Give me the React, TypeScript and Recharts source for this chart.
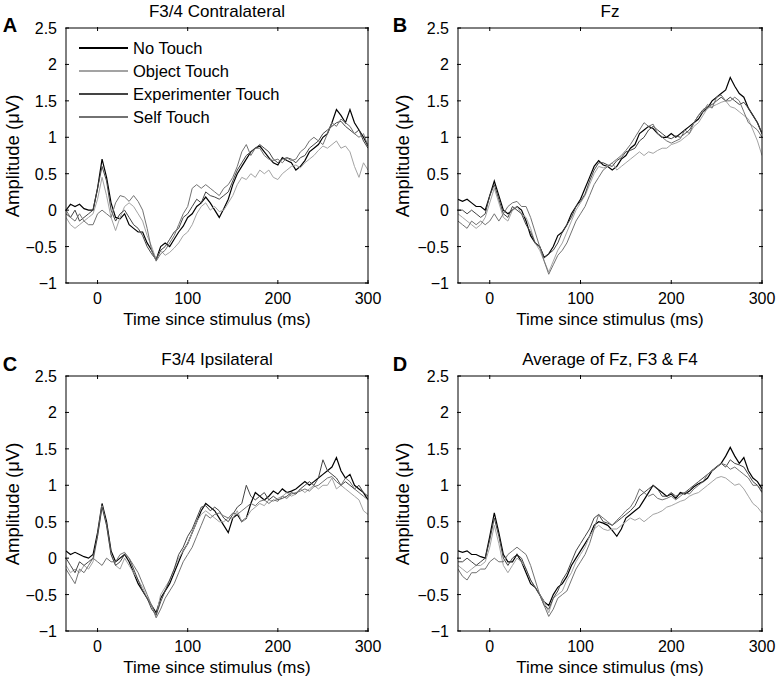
import { LineChart, Line, XAxis, YAxis, Legend } from "recharts";

// time axis, 5 ms steps from -35 to 300 ms
const times = [
  -35, -30, -25, -20, -15, -10, -5, 0, 5, 10, 15, 20, 25, 30, 35, 40, 45, 50, 55, 60,
  65, 70, 75, 80, 85, 90, 95, 100, 105, 110, 115, 120, 125, 130, 135, 140, 145, 150, 155, 160,
  165, 170, 175, 180, 185, 190, 195, 200, 205, 210, 215, 220, 225, 230, 235, 240, 245, 250, 255, 260,
  265, 270, 275, 280, 285, 290, 295, 300,
];

const xTicks = [0, 100, 200, 300];
const yTicks = [-1, -0.5, 0, 0.5, 1, 1.5, 2, 2.5];

const seriesNames = ["No Touch", "Object Touch", "Experimenter Touch", "Self Touch"];
const seriesColors = ["#000000", "#a3a3a3", "#444444", "#727272"];

// A: F3/4 Contralateral
const contraNo = [
  0.0, 0.08, 0.05, 0.08, 0.02, 0.0, 0.0, 0.3, 0.7, 0.45, 0.1, -0.1, -0.12, -0.05, -0.2, -0.25, -0.3, -0.3, -0.45, -0.55,
  -0.68, -0.5, -0.45, -0.5, -0.4, -0.3, -0.22, -0.1, -0.05, 0.05, 0.1, 0.18, 0.1, 0.0, -0.1, 0.02, 0.15, 0.35, 0.5, 0.6,
  0.7, 0.8, 0.85, 0.88, 0.8, 0.72, 0.65, 0.62, 0.72, 0.68, 0.65, 0.55, 0.6, 0.68, 0.8, 0.85, 0.9, 1.0, 1.05, 1.2,
  1.38, 1.3, 1.2, 1.38, 1.2, 1.1, 1.0, 0.88,
];
const contraObject = [
  -0.1, -0.2, -0.25, -0.2, -0.15, -0.1, -0.05, 0.15, 0.45, 0.2, -0.1, -0.28, -0.1, 0.05, 0.1, 0.05, -0.05, -0.15, -0.35, -0.5,
  -0.68, -0.55, -0.62, -0.58, -0.52, -0.45, -0.35, -0.3, -0.2, -0.05, 0.05, 0.1, 0.0, 0.05, -0.02, 0.0, 0.1, 0.2, 0.35, 0.45,
  0.42, 0.5, 0.45, 0.55, 0.5, 0.55, 0.45, 0.42, 0.5, 0.55, 0.6, 0.62, 0.58, 0.65, 0.7, 0.75, 0.82, 0.88, 0.85, 0.9,
  0.95, 0.85, 0.88, 0.8, 0.6, 0.45, 0.65, 0.55,
];
const contraExperimenter = [
  -0.05, -0.1, 0.0, -0.15, -0.1, -0.05, 0.0, 0.3, 0.6, 0.4, 0.0, -0.15, -0.05, 0.0, -0.1, -0.2, -0.25, -0.35, -0.5, -0.6,
  -0.68, -0.55, -0.5, -0.4, -0.3, -0.25, -0.1, -0.05, 0.05, 0.15, 0.1, 0.25, 0.2, 0.18, 0.15, 0.2, 0.25, 0.4, 0.55, 0.65,
  0.75, 0.8, 0.85, 0.9, 0.85, 0.8, 0.7, 0.65, 0.7, 0.72, 0.7, 0.65, 0.72, 0.75, 0.85, 0.9, 0.95, 1.05, 1.1, 1.15,
  1.2, 1.22, 1.15, 1.1, 1.05, 1.1, 0.95, 0.85,
];
const contraSelf = [
  0.0, -0.1, -0.15, -0.05, -0.15, -0.2, -0.2, -0.05, 0.0, -0.05, -0.1, 0.1, 0.2, 0.18, 0.12, 0.2, 0.12, 0.0, -0.25, -0.55,
  -0.7, -0.6, -0.55, -0.45, -0.35, -0.2, -0.05, 0.05, 0.3, 0.35, 0.3, 0.35, 0.3, 0.25, 0.2, 0.3, 0.35, 0.45, 0.6, 0.8,
  0.9, 0.75, 0.85, 0.85, 0.75, 0.7, 0.68, 0.7, 0.65, 0.72, 0.68, 0.7, 0.8, 0.85, 0.95, 1.0, 0.95, 0.9, 1.05, 1.2,
  1.15, 1.25, 1.2, 1.15, 1.05, 1.0, 1.05, 0.88,
];

// B: Fz
const fzNo = [
  0.15, 0.12, 0.15, 0.1, 0.05, 0.05, 0.0, 0.2, 0.4, 0.2, 0.0, -0.05, 0.0, 0.05, 0.0, -0.15, -0.35, -0.45, -0.5, -0.65,
  -0.6, -0.5, -0.35, -0.3, -0.2, -0.05, 0.05, 0.15, 0.3, 0.45, 0.6, 0.68, 0.62, 0.6, 0.55, 0.6, 0.7, 0.75, 0.85, 0.9,
  1.05, 1.1, 1.15, 1.12, 1.05, 1.0, 1.0, 1.05, 1.0, 1.05, 1.1, 1.15, 1.2, 1.25, 1.35, 1.4, 1.5, 1.55, 1.6, 1.65,
  1.82, 1.7, 1.6, 1.55, 1.4, 1.3, 1.2, 1.05,
];
const fzObject = [
  -0.05, -0.1, -0.15, -0.2, -0.25, -0.2, -0.1, 0.1, 0.3, 0.1, -0.1, -0.15, 0.0, 0.05, -0.05, -0.1, -0.25, -0.45, -0.55, -0.7,
  -0.85, -0.7, -0.55, -0.45, -0.3, -0.15, 0.0, 0.1, 0.2, 0.35, 0.5, 0.6, 0.58, 0.6, 0.65, 0.55, 0.6, 0.65, 0.7, 0.75,
  0.8, 0.75, 0.8, 0.78, 0.82, 0.85, 0.85, 0.9, 0.92, 0.95, 1.0, 1.05, 1.15, 1.2, 1.3, 1.4, 1.42, 1.45, 1.48, 1.5,
  1.42, 1.4, 1.35, 1.3, 1.25, 1.1, 0.95, 0.75,
];
const fzExperimenter = [
  0.0, 0.0, -0.05, 0.0, -0.05, -0.1, -0.05, 0.2, 0.35, 0.15, -0.05, -0.1, 0.05, 0.0, -0.05, -0.2, -0.3, -0.45, -0.5, -0.65,
  -0.6, -0.55, -0.45, -0.3, -0.2, -0.1, 0.05, 0.12, 0.22, 0.4, 0.55, 0.65, 0.65, 0.62, 0.6, 0.68, 0.72, 0.8, 0.82, 0.85,
  0.95, 1.0, 1.1, 1.15, 1.1, 1.05, 1.0, 0.98, 1.02, 1.0, 1.05, 1.1, 1.2, 1.3, 1.38, 1.42, 1.45, 1.5, 1.55, 1.5,
  1.55, 1.5, 1.45, 1.48, 1.4, 1.3, 1.2, 1.05,
];
const fzSelf = [
  -0.15, -0.2, -0.25, -0.15, -0.2, -0.15, -0.2, -0.15, -0.05, -0.15, -0.05, 0.05, 0.1, 0.12, 0.05, 0.05, -0.1, -0.3, -0.5, -0.7,
  -0.88, -0.75, -0.62, -0.55, -0.45, -0.3, -0.15, -0.05, 0.05, 0.2, 0.35, 0.45, 0.55, 0.6, 0.65, 0.7, 0.75, 0.82, 0.9, 1.0,
  1.1, 1.2, 1.15, 1.18, 1.05, 1.0, 0.95, 0.92, 0.95, 0.98, 1.1, 1.05, 1.2, 1.3, 1.35, 1.45, 1.4, 1.55, 1.58, 1.5,
  1.5, 1.55, 1.5, 1.35, 1.2, 1.15, 1.1, 1.0,
];

// C: F3/4 Ipsilateral
const ipsiNo = [
  0.1, 0.05, 0.08, 0.05, 0.02, 0.0, 0.05, 0.35, 0.75, 0.5, 0.1, -0.05, 0.0, 0.05, -0.05, -0.2, -0.35, -0.45, -0.55, -0.65,
  -0.75, -0.55, -0.45, -0.35, -0.2, -0.05, 0.1, 0.2, 0.35, 0.5, 0.65, 0.75, 0.7, 0.65, 0.55, 0.45, 0.35, 0.55, 0.6, 0.5,
  0.55, 0.75, 0.9, 0.85, 0.8, 0.85, 0.92, 0.88, 0.95, 0.9, 0.92, 0.95, 1.0, 1.05, 1.0, 1.05, 1.1, 1.15, 1.2, 1.25,
  1.38, 1.2, 1.1, 1.15, 1.0, 0.95, 0.9, 0.8,
];
const ipsiObject = [
  -0.1, -0.2, -0.15, -0.2, -0.1, -0.15, -0.05, 0.3, 0.72, 0.45, 0.05, -0.1, -0.15, 0.0, -0.1, -0.2, -0.3, -0.4, -0.55, -0.65,
  -0.8, -0.5, -0.4, -0.3, -0.15, 0.0, 0.1, 0.2, 0.35, 0.5, 0.6, 0.65, 0.6, 0.55, 0.5, 0.5, 0.55, 0.55, 0.65, 0.5,
  0.55, 0.65, 0.7, 0.75, 0.72, 0.8, 0.78, 0.82, 0.85, 0.9, 0.85, 0.88, 0.95, 0.9, 0.95, 1.0, 0.95, 1.0, 1.0, 1.1,
  0.95, 1.0, 0.95, 0.9, 0.85, 0.8, 0.65, 0.6,
];
const ipsiExperimenter = [
  0.0, -0.1, -0.2, -0.05, -0.1, -0.05, 0.0, 0.3, 0.7, 0.45, 0.05, -0.1, -0.05, 0.05, 0.0, -0.15, -0.3, -0.45, -0.55, -0.7,
  -0.78, -0.6, -0.45, -0.3, -0.15, 0.05, 0.15, 0.3, 0.4, 0.55, 0.7, 0.72, 0.65, 0.7, 0.65, 0.55, 0.5, 0.6, 0.7, 0.75,
  1.0, 0.85, 0.8, 0.85, 0.9, 0.8, 0.85, 0.8, 0.82, 0.85, 0.9, 0.88, 0.95, 1.0, 1.05, 1.0, 1.1, 1.35, 1.2, 1.15,
  1.1, 1.0, 1.05, 1.0, 0.95, 1.0, 0.9, 0.85,
];
const ipsiSelf = [
  -0.15, -0.25, -0.35, -0.15, -0.2, -0.1, 0.0, -0.05, -0.1, 0.0, -0.05, -0.05, 0.05, 0.08, 0.0, -0.1, -0.2, -0.35, -0.5, -0.65,
  -0.82, -0.7, -0.55, -0.45, -0.35, -0.2, -0.05, 0.05, 0.15, 0.3, 0.45, 0.6, 0.55, 0.6, 0.62, 0.58, 0.55, 0.62, 0.6, 0.65,
  0.7, 0.75, 0.72, 0.78, 0.8, 0.75, 0.8, 0.78, 0.85, 0.82, 0.88, 0.9, 0.92, 0.95, 0.92, 0.98, 1.0, 1.05, 1.1, 1.12,
  1.05, 1.0, 1.1, 1.05, 0.95, 0.9, 0.85, 0.8,
];

// D: Average of Fz, F3 & F4
const avgNo = [
  0.1, 0.08, 0.1, 0.05, 0.05, 0.02, 0.0, 0.3, 0.62, 0.35, 0.05, -0.05, -0.05, 0.05, -0.05, -0.2, -0.35, -0.4, -0.5, -0.6,
  -0.65, -0.5, -0.4, -0.35, -0.25, -0.1, 0.0, 0.1, 0.2, 0.3, 0.45, 0.5, 0.48, 0.45, 0.38, 0.3, 0.4, 0.55, 0.6, 0.65,
  0.7, 0.8, 0.9, 1.0, 0.95, 0.9, 0.85, 0.88, 0.82, 0.9, 0.88, 0.92, 0.98, 1.02, 1.05, 1.1, 1.2, 1.25, 1.3, 1.4,
  1.52, 1.4, 1.3, 1.38, 1.2, 1.1, 1.05, 0.95,
];
const avgObject = [
  -0.1, -0.15, -0.2, -0.15, -0.1, -0.1, -0.05, 0.15, 0.45, 0.2, -0.1, -0.2, -0.1, 0.0, -0.05, -0.15, -0.3, -0.4, -0.5, -0.6,
  -0.75, -0.55, -0.5, -0.45, -0.3, -0.2, -0.05, 0.05, 0.15, 0.3, 0.4, 0.45, 0.4, 0.38, 0.4, 0.4, 0.45, 0.5, 0.55, 0.52,
  0.55, 0.5, 0.55, 0.6, 0.62, 0.65, 0.7, 0.72, 0.75, 0.78, 0.8, 0.85, 0.88, 0.9, 0.95, 1.0, 1.05, 1.1, 1.12, 1.1,
  1.05, 1.0, 1.02, 0.95, 0.85, 0.75, 0.7, 0.62,
];
const avgExperimenter = [
  -0.05, -0.05, 0.0, -0.05, -0.1, -0.05, 0.0, 0.25, 0.55, 0.3, 0.0, -0.1, 0.0, 0.05, 0.0, -0.15, -0.3, -0.4, -0.5, -0.65,
  -0.7, -0.55, -0.45, -0.3, -0.2, -0.05, 0.1, 0.2, 0.3, 0.4, 0.55, 0.6, 0.5, 0.48, 0.45, 0.5, 0.55, 0.6, 0.65, 0.72,
  0.85, 0.9, 0.95, 1.0, 0.95, 0.85, 0.85, 0.9, 0.85, 0.88, 0.9, 0.95, 1.0, 1.05, 1.1, 1.15, 1.2, 1.25, 1.3, 1.25,
  1.35, 1.3, 1.28, 1.25, 1.15, 1.05, 1.0, 0.9,
];
const avgSelf = [
  -0.15, -0.25, -0.3, -0.2, -0.2, -0.15, -0.15, -0.05, 0.0, -0.05, -0.05, 0.05, 0.1, 0.15, 0.1, 0.05, -0.1, -0.3, -0.5, -0.65,
  -0.8, -0.7, -0.55, -0.5, -0.45, -0.3, -0.15, -0.05, 0.05, 0.2, 0.4, 0.6, 0.55, 0.5, 0.45, 0.52, 0.58, 0.65, 0.7, 0.8,
  0.95, 0.9, 0.85, 0.88, 0.82, 0.8, 0.82, 0.85, 0.8, 0.85, 0.9, 0.88, 0.95, 1.0, 1.05, 1.15, 1.2, 1.25, 1.3, 1.28,
  1.22, 1.25, 1.2, 1.15, 1.1, 1.0, 1.0, 0.92,
];

const keys = ["noTouch", "objectTouch", "experimenterTouch", "selfTouch"];

const buildRows = (series: number[][]) =>
  times.map((t, i) => {
    const row: any = { t };
    keys.forEach((k, j) => (row[k] = series[j][i]));
    return row;
  });

const FONT = '"Liberation Sans", Arial, Helvetica, sans-serif';

const fmt = (v: number) => (v < 0 ? `\u2212${Math.abs(v)}` : `${v}`);

// MATLAB-style ticks: marks point into the box
const BottomTick = (p: any) => (
  <g>
    <line x1={p.x} x2={p.x} y1={p.y} y2={p.y - 4} stroke="#000" />
    <text x={p.x} y={p.y + 20} textAnchor="middle" fontSize={16} fontFamily={FONT} fill="#000">
      {p.payload.value}
    </text>
  </g>
);
const TopTick = (p: any) => <line x1={p.x} x2={p.x} y1={p.y} y2={p.y + 4} stroke="#000" />;
const LeftTick = (p: any) => (
  <g>
    <line x1={p.x} x2={p.x + 4} y1={p.y} y2={p.y} stroke="#000" />
    <text x={p.x - 8} y={p.y + 6} textAnchor="end" fontSize={16} fontFamily={FONT} fill="#000">
      {fmt(p.payload.value)}
    </text>
  </g>
);
const RightTick = (p: any) => <line x1={p.x} x2={p.x - 4} y1={p.y} y2={p.y} stroke="#000" />;

const LegendBox = () => (
  <div style={{ fontFamily: FONT, fontSize: 16.5, color: "#000" }}>
    {seriesNames.map((n, i) => (
      <div key={n} style={{ display: "flex", alignItems: "center", height: 23 }}>
        <span style={{ width: 49, borderTop: `2px solid ${seriesColors[i]}`, marginRight: 5 }} />
        <span>{n}</span>
      </div>
    ))}
  </div>
);

interface PanelProps {
  left: number;
  top: number;
  width: number;
  height: number;
  box: { left: number; right: number; top: number; bottom: number };
  title: string;
  letter: string;
  letterY: number;
  series: number[][];
  legend?: boolean;
}

function Panel({ left, top, width, height, box, title, letter, letterY, series, legend }: PanelProps) {
  const data = buildRows(series);
  const boxW = width - box.left - box.right;
  const boxH = height - box.top - box.bottom;
  const cx = box.left + boxW / 2;
  const cy = box.top + boxH / 2;
  // each axis takes 1px, so the margins are one pixel smaller than the box offsets
  const margin = { left: box.left - 1, right: box.right - 1, top: box.top - 1, bottom: box.bottom - 1 };
  const text: any = { position: "absolute", fontFamily: FONT, color: "#000", whiteSpace: "nowrap", lineHeight: 1 };
  return (
    <div style={{ position: "absolute", left, top, width, height }}>
      <LineChart width={width} height={height} data={data} margin={margin}>
        <XAxis
          xAxisId="bottom"
          dataKey="t"
          type="number"
          domain={[-35, 300]}
          ticks={xTicks}
          allowDataOverflow
          height={1}
          tickSize={1}
          tickMargin={0}
          tickLine={false}
          axisLine={{ stroke: "#000" }}
          tick={BottomTick}
          interval={0}
        />
        <XAxis
          xAxisId="top"
          orientation="top"
          dataKey="t"
          type="number"
          domain={[-35, 300]}
          ticks={xTicks}
          allowDataOverflow
          height={1}
          tickSize={1}
          tickMargin={0}
          tickLine={false}
          axisLine={{ stroke: "#000" }}
          tick={TopTick}
          interval={0}
        />
        <YAxis
          yAxisId="left"
          type="number"
          domain={[-1, 2.5]}
          ticks={yTicks}
          allowDataOverflow
          width={1}
          tickSize={1}
          tickMargin={0}
          tickLine={false}
          axisLine={{ stroke: "#000" }}
          tick={LeftTick}
          interval={0}
        />
        <YAxis
          yAxisId="right"
          orientation="right"
          type="number"
          domain={[-1, 2.5]}
          ticks={yTicks}
          allowDataOverflow
          width={1}
          tickSize={1}
          tickMargin={0}
          tickLine={false}
          axisLine={{ stroke: "#000" }}
          tick={RightTick}
          interval={0}
        />
        {legend && (
          <Legend
            layout="vertical"
            align="center"
            verticalAlign="middle"
            content={LegendBox}
            wrapperStyle={{ left: box.left + 13, top: box.top + 8.5, width: 220, height: 92 }}
          />
        )}
        {keys.map((k, i) => (
          <Line
            key={k}
            xAxisId="bottom"
            yAxisId="left"
            dataKey={k}
            name={seriesNames[i]}
            type="linear"
            stroke={seriesColors[i]}
            strokeWidth={i === 0 ? 1.2 : 1}
            dot={false}
            activeDot={false}
            isAnimationActive={false}
          />
        ))}
      </LineChart>
      <div style={{ ...text, left: cx, top: box.top - 17, fontSize: 17, transform: "translate(-50%, -50%)" }}>{title}</div>
      <div style={{ ...text, left: cx, top: box.top + boxH + 36, fontSize: 17, transform: "translate(-50%, -50%)" }}>
        Time since stimulus (ms)
      </div>
      <div
        style={{
          ...text,
          left: 13,
          top: cy,
          fontSize: 18.5,
          transform: "translate(-50%, -50%) rotate(-90deg)",
        }}
      >
        Amplitude (μV)
      </div>
      <div style={{ ...text, left: 10, top: letterY, fontSize: 20, fontWeight: "bold", transform: "translate(-50%, -50%)" }}>
        {letter}
      </div>
    </div>
  );
}

export default function App() {
  return (
    <div style={{ position: "absolute", left: 0, top: 0, width: 777, height: 677, overflow: "hidden", background: "#fff" }}>
      <Panel
        left={0}
        top={0}
        width={390}
        height={340}
        box={{ left: 66, right: 22, top: 28, bottom: 57 }}
        title="F3/4 Contralateral"
        letter="A"
        letterY={25}
        series={[contraNo, contraObject, contraExperimenter, contraSelf]}
        legend
      />
      <Panel
        left={390}
        top={0}
        width={387}
        height={340}
        box={{ left: 68, right: 15, top: 28, bottom: 57 }}
        title="Fz"
        letter="B"
        letterY={25}
        series={[fzNo, fzObject, fzExperimenter, fzSelf]}
      />
      <Panel
        left={0}
        top={340}
        width={390}
        height={337}
        box={{ left: 66, right: 22, top: 36, bottom: 46 }}
        title="F3/4 Ipsilateral"
        letter="C"
        letterY={24}
        series={[ipsiNo, ipsiObject, ipsiExperimenter, ipsiSelf]}
      />
      <Panel
        left={390}
        top={340}
        width={387}
        height={337}
        box={{ left: 68, right: 15, top: 36, bottom: 46 }}
        title="Average of Fz, F3 & F4"
        letter="D"
        letterY={24}
        series={[avgNo, avgObject, avgExperimenter, avgSelf]}
      />
    </div>
  );
}
